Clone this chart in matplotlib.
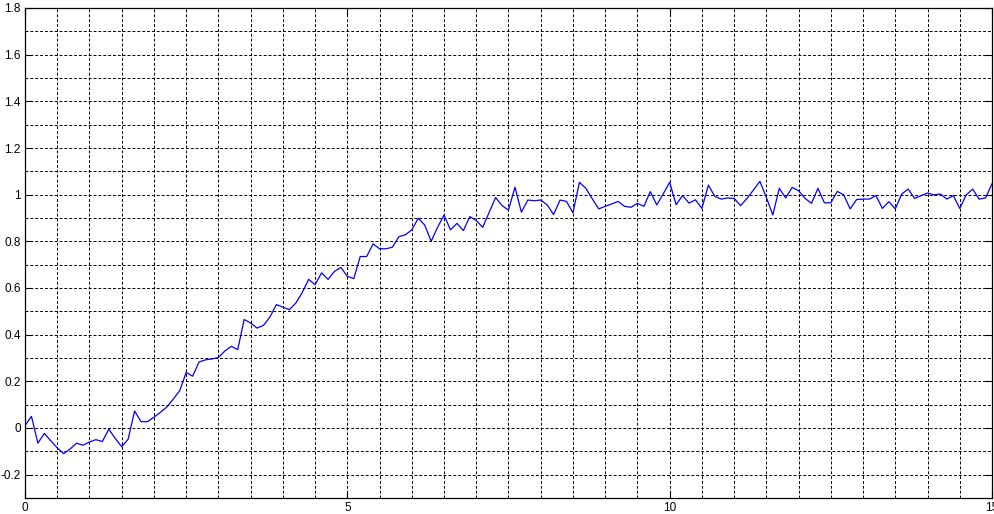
import matplotlib
matplotlib.use('Agg')
import matplotlib.pyplot as plt
import numpy as np
from matplotlib.ticker import MultipleLocator

t = np.round(np.arange(151) * 0.1, 1)
y = [
    0.01, 0.05, -0.065, -0.023, -0.055, -0.085, -0.11, -0.09, -0.065, -0.074,
    -0.06, -0.05, -0.058, -0.005, -0.045, -0.08, -0.048, 0.073, 0.027, 0.027,
    0.046, 0.067, 0.09, 0.124, 0.16, 0.238, 0.222, 0.283, 0.292, 0.296,
    0.302, 0.33, 0.35, 0.336, 0.465, 0.45, 0.428, 0.44, 0.476, 0.529,
    0.518, 0.507, 0.535, 0.58, 0.637, 0.614, 0.665, 0.637, 0.671, 0.688,
    0.65, 0.64, 0.735, 0.735, 0.789, 0.768, 0.768, 0.775, 0.82, 0.828,
    0.849, 0.899, 0.87, 0.80, 0.86, 0.913, 0.849, 0.877, 0.846, 0.906,
    0.889, 0.86, 0.924, 0.988, 0.953, 0.934, 1.032, 0.925, 0.977, 0.974,
    0.977, 0.956, 0.915, 0.977, 0.971, 0.922, 1.053, 1.027, 0.982, 0.939,
    0.95, 0.96, 0.971, 0.95, 0.946, 0.963, 0.95, 1.013, 0.956, 1.003,
    1.053, 0.957, 0.996, 0.964, 0.978, 0.941, 1.041, 0.993, 0.981, 0.986,
    0.984, 0.953, 0.984, 1.02, 1.057, 0.988, 0.913, 1.027, 0.986, 1.031,
    1.017, 0.984, 0.963, 1.027, 0.965, 0.965, 1.014, 0.999, 0.939, 0.979,
    0.981, 0.981, 0.996, 0.941, 0.97, 0.939, 1.003, 1.024, 0.984, 0.996,
    1.007, 0.999, 1.003, 0.981, 0.996, 0.941, 0.999, 1.024, 0.981, 0.986,
    1.046,
]

xticks = [0, 5, 10, 15]
yticks = [-0.2, 0, 0.2, 0.4, 0.6, 0.8, 1, 1.2, 1.4, 1.6, 1.8]
yticklabels = ['-0.2', '0', '0.2', '0.4', '0.6', '0.8', '1', '1.2', '1.4', '1.6', '1.8']

plt.rcParams['font.family'] = ['Liberation Sans', 'DejaVu Sans']

fig = plt.figure(figsize=(9.95, 5.14), dpi=100)
ax = fig.add_axes([25 / 995, 16 / 514, 967 / 995, 490 / 514])

ax.plot(t, y, color='#0000ff', lw=0.9)

ax.set_xlim(0, 15)
ax.set_ylim(-0.3, 1.8)
ax.set_xticks(xticks)
ax.set_xticklabels([str(v) for v in xticks])
ax.set_yticks(yticks)
ax.set_yticklabels(yticklabels)
ax.xaxis.set_minor_locator(MultipleLocator(0.5))
ax.yaxis.set_minor_locator(MultipleLocator(0.1))

# dashed grid on every half second and every 0.1
ax.grid(True, which='both', color='k', linestyle=(0, (3, 2)), linewidth=0.7)
ax.set_axisbelow(True)

ax.tick_params(which='major', direction='in', length=5, width=0.8,
               top=True, right=True, labelsize=8.5, pad=3, colors='k')
ax.tick_params(which='minor', length=0)

for s in ax.spines.values():
    s.set_linewidth(0.9)
    s.set_color('k')

fig.savefig('out.png', dpi=100)
